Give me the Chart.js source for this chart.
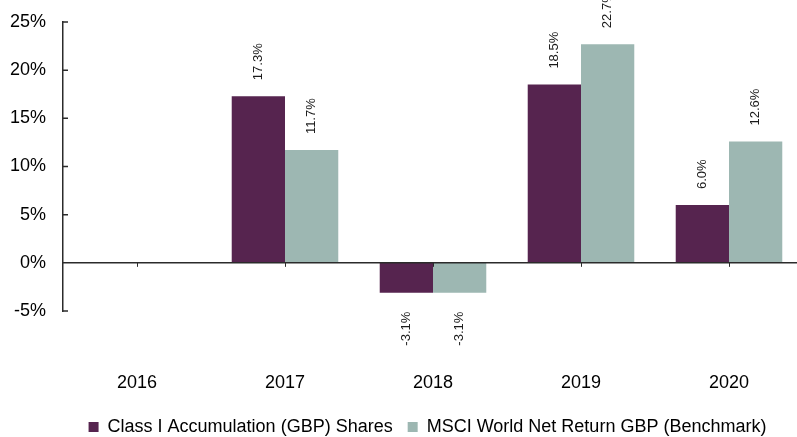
<!DOCTYPE html>
<html>
<head>
<meta charset="utf-8">
<script src="https://cdn.jsdelivr.net/npm/chart.js@4.4.1/dist/chart.umd.min.js"></script>
<style>
  html, body { margin: 0; padding: 0; overflow: hidden; background: #fff; }
  canvas { display: block; }
</style>
</head>
<body>
<canvas id="perf" width="803" height="437"></canvas>
<script>
// calendar year returns, in %
const years = ['2016', '2017', '2018', '2019', '2020'];
const classI = [null, 17.3, -3.1, 18.5, 6.0];
const benchmark = [null, 11.7, -3.1, 22.7, 12.6];
const seriesNames = ['Class I Accumulation (GBP) Shares', 'MSCI World Net Return GBP (Benchmark)'];
const yMin = -5, yMax = 25, yStep = 5;

Chart.defaults.font.family = '"Liberation Sans", Arial, sans-serif';
Chart.defaults.font.size = 18;
Chart.defaults.color = '#000';

// rotated value labels just outside the end of each bar
const barLabels = {
  id: 'barLabels',
  afterDatasetsDraw(chart) {
    const ctx = chart.ctx;
    ctx.save();
    ctx.font = '13px "Liberation Sans", Arial, sans-serif';
    ctx.fillStyle = '#1a1a1a';
    ctx.textBaseline = 'middle';
    chart.data.datasets.forEach((ds, i) => {
      chart.getDatasetMeta(i).data.forEach((bar, j) => {
        const v = ds.data[j];
        if (v == null) return;
        ctx.save();
        if (v >= 0) {
          ctx.translate(bar.x, bar.y - 16);
          ctx.rotate(-Math.PI / 2);
          ctx.textAlign = 'left';
        } else {
          ctx.translate(bar.x, bar.y + 19);
          ctx.rotate(-Math.PI / 2);
          ctx.textAlign = 'right';
        }
        ctx.fillText(v.toFixed(1) + '%', 0, 0);
        ctx.restore();
      });
    });
    ctx.restore();
  }
};

// zero line, inner ticks on the y axis, small ticks under the zero line
const axisMarks = {
  id: 'axisMarks',
  afterDatasetsDraw(chart) {
    const {ctx, chartArea, scales} = chart;
    const x = scales.x, y = scales.y;
    const y0 = y.getPixelForValue(0);
    ctx.save();
    ctx.strokeStyle = '#2b2b2b';
    ctx.lineWidth = 1.5;
    ctx.beginPath();
    ctx.moveTo(chartArea.left, y0);
    ctx.lineTo(chartArea.right, y0);
    y.ticks.forEach(t => {
      const py = y.getPixelForValue(t.value);
      ctx.moveTo(chartArea.left, py);
      ctx.lineTo(chartArea.left + 5, py);
    });
    ctx.stroke();
    ctx.lineWidth = 1;
    ctx.beginPath();
    x.ticks.forEach((t, i) => {
      const px = Math.round(x.getPixelForTick(i)) + 0.5;
      ctx.moveTo(px, y0);
      ctx.lineTo(px, y0 + 4);
    });
    ctx.stroke();
    ctx.restore();
  }
};

// legend sits a bit right and low in the original
const legendShift = {
  id: 'legendShift',
  afterLayout(chart) {
    const l = chart.legend;
    l.left += 26; l.right += 26;
    l.top += 9; l.bottom += 9;
  }
};

new Chart(document.getElementById('perf'), {
  type: 'bar',
  data: {
    labels: years,
    datasets: [
      {
        label: seriesNames[0],
        data: classI,
        backgroundColor: '#56244f',
        borderWidth: 0
      },
      {
        label: seriesNames[1],
        data: benchmark,
        backgroundColor: '#9db7b2',
        borderWidth: 0
      }
    ]
  },
  options: {
    responsive: false,
    animation: false,
    devicePixelRatio: 1,
    categoryPercentage: 0.72,
    barPercentage: 1.0,
    layout: { padding: { top: 22, left: 0, right: 0, bottom: 0 } },
    plugins: {
      tooltip: { enabled: false },
      legend: {
        position: 'bottom',
        labels: {
          boxWidth: 10,
          boxHeight: 10,
          padding: 15,
          color: '#000',
          font: { size: 18 }
        }
      }
    },
    scales: {
      x: {
        grid: { display: false },
        border: { display: false },
        ticks: { padding: 53, color: '#000', font: { size: 18 } },
        afterFit(scale) { scale.height = 83; }
      },
      y: {
        min: yMin,
        max: yMax,
        ticks: {
          stepSize: yStep,
          padding: 11,
          color: '#000',
          font: { size: 18 },
          callback: v => v + '%'
        },
        // ticks hidden (grid off) but their length still spaces the labels
        grid: { display: false, drawTicks: true, tickLength: 6 },
        border: { display: true, color: '#2b2b2b', width: 1.5 },
        afterFit(scale) { scale.width = 63; }
      }
    }
  },
  plugins: [barLabels, axisMarks, legendShift]
});
</script>
</body>
</html>
